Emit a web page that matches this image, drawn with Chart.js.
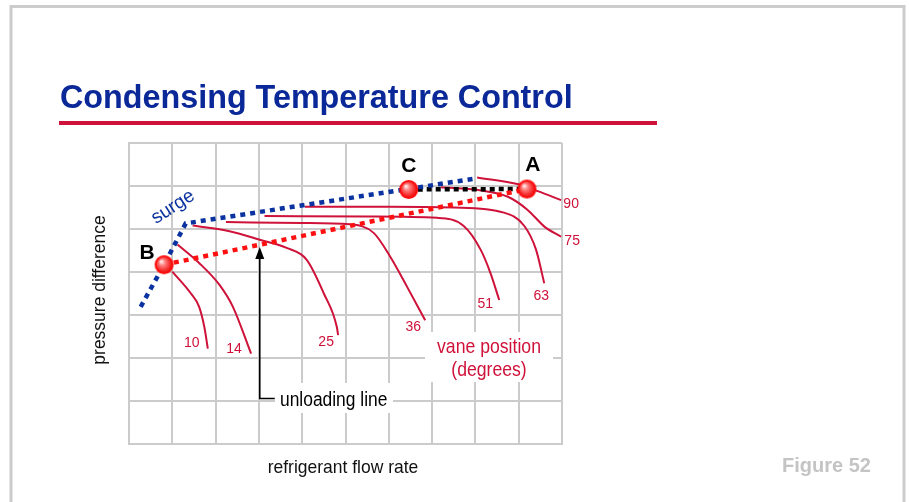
<!DOCTYPE html>
<html>
<head>
<meta charset="utf-8">
<title>Condensing Temperature Control</title>
<script src="https://cdn.jsdelivr.net/npm/chart.js@4.4.0/dist/chart.umd.min.js"></script>
<style>
  html, body { margin: 0; padding: 0; background: #fff; }
  canvas { display: block; }
</style>
</head>
<body>
<canvas id="chart" width="909" height="502"></canvas>
<script>
// grid units: 10 columns of flow, 7 rows of pressure difference
const X_MAX = 10;
const Y_MAX = 7;

// vane position curves (degrees)
const vaneAngles = [10, 14, 25, 36, 51, 63, 75, 90];
const vane10 = [{x: 1.00, y: 4.01}, {x: 1.43, y: 3.50}, {x: 1.62, y: 3.19}, {x: 1.74, y: 2.72}, {x: 1.82, y: 2.22}];
const vane14 = [{x: 1.12, y: 4.64}, {x: 1.62, y: 4.21}, {x: 2.09, y: 3.70}, {x: 2.40, y: 3.19}, {x: 2.82, y: 2.10}];
const vane25 = [{x: 1.47, y: 5.08}, {x: 2.32, y: 4.95}, {x: 3.02, y: 4.75}, {x: 3.64, y: 4.56}, {x: 4.10, y: 4.29}, {x: 4.50, y: 3.50}, {x: 4.80, y: 2.72}, {x: 4.83, y: 2.53}];
const vane36 = [{x: 2.24, y: 5.16}, {x: 4.00, y: 5.14}, {x: 5.10, y: 5.11}, {x: 5.65, y: 4.91}, {x: 6.03, y: 4.36}, {x: 6.42, y: 3.66}, {x: 6.84, y: 2.88}];
const vane51 = [{x: 3.13, y: 5.30}, {x: 5.50, y: 5.29}, {x: 7.12, y: 5.26}, {x: 7.73, y: 5.07}, {x: 8.12, y: 4.52}, {x: 8.35, y: 3.97}, {x: 8.55, y: 3.35}];
const vane63 = [{x: 4.06, y: 5.52}, {x: 6.00, y: 5.52}, {x: 7.50, y: 5.50}, {x: 8.66, y: 5.38}, {x: 9.13, y: 5.07}, {x: 9.40, y: 4.52}, {x: 9.59, y: 3.74}];
const vane75 = [{x: 7.20, y: 5.97}, {x: 8.10, y: 5.90}, {x: 8.75, y: 5.75}, {x: 9.20, y: 5.45}, {x: 9.60, y: 5.05}, {x: 9.98, y: 4.82}];
const vane90 = [{x: 8.04, y: 6.20}, {x: 9.00, y: 6.04}, {x: 9.44, y: 5.88}, {x: 9.98, y: 5.67}];
const vaneCurves = [vane10, vane14, vane25, vane36, vane51, vane63, vane75, vane90];

// operating points
const pointA = {x: 9.19, y: 5.93};
const pointB = {x: 0.81, y: 4.17};
const pointC = {x: 6.46, y: 5.92};
const pointNames = ['A', 'B', 'C'];

// surge line, unloading line B->A, and C->A
const surgeLine = [{x: 0.27, y: 3.19}, pointB, {x: 1.31, y: 5.13}, {x: 8.04, y: 6.18}];
const unloadingLine = [pointB, pointA];
const condensingLine = [pointC, pointA];

const RED = '#cf1239';
const BLUE = '#0a32a0';
const TITLE_BLUE = '#0a2898';
const FONT = '"Liberation Sans", Arial, sans-serif';

// shaded red ball used for A, B, C
function makeBall(r) {
    const c = document.createElement('canvas');
    const s = Math.ceil(r * 2 + 2);
    c.width = s; c.height = s;
    const g = c.getContext('2d');
    const cx = s / 2, cy = s / 2;
    const grad = g.createRadialGradient(cx - r * 0.3, cy - r * 0.35, 0.5, cx, cy, r);
    grad.addColorStop(0, '#fff0f0');
    grad.addColorStop(0.3, '#ff8080');
    grad.addColorStop(0.75, '#f52222');
    grad.addColorStop(1, '#e00808');
    g.beginPath();
    g.arc(cx, cy, r - 0.9, 0, Math.PI * 2);
    g.fillStyle = grad;
    g.fill();
    g.lineWidth = 1.8;
    g.strokeStyle = '#ff0a0a';
    g.stroke();
    return c;
}
const ball = makeBall(9.5);

// per-label nudges from the curve end (px)
const vaneLabelOffset = [[-16, -5], [-17, -5], [-12, 7], [-12, 7], [-14, 4], [-3, 13], [11, 4], [10, 4]];
const pointLabelOffset = {A: [6, -24], B: [-17, -11], C: [0, -23]};

function textScaled(ctx, str, x, y, sx) {
    ctx.save();
    ctx.translate(x, y);
    ctx.scale(sx, 1);
    ctx.fillText(str, 0, 0);
    ctx.restore();
}

const slidePlugin = {
    id: 'slide',
    beforeDatasetsDraw(chart) {
        const ctx = chart.ctx;
        ctx.save();
        // white boxes hiding the grid behind the notes
        ctx.fillStyle = '#fff';
        ctx.fillRect(425, 332, 128, 50);
        ctx.fillRect(275, 383, 118, 30);
        ctx.restore();
    },
    afterDatasetsDraw(chart) {
        const ctx = chart.ctx;
        const xs = chart.scales.x, ys = chart.scales.y;
        ctx.save();

        // slide frame
        ctx.strokeStyle = '#cccccc';
        ctx.lineWidth = 3;
        ctx.beginPath();
        ctx.moveTo(11, 510);
        ctx.lineTo(11, 6.5);
        ctx.lineTo(904, 6.5);
        ctx.lineTo(904, 510);
        ctx.stroke();

        // title + underline
        ctx.fillStyle = TITLE_BLUE;
        ctx.font = 'bold 34px ' + FONT;
        ctx.textBaseline = 'alphabetic';
        ctx.textAlign = 'left';
        textScaled(ctx, 'Condensing Temperature Control', 60, 108, 0.95);
        ctx.fillStyle = RED;
        ctx.fillRect(59, 121, 598, 4);

        // axis titles
        ctx.fillStyle = '#111';
        ctx.font = '19px ' + FONT;
        ctx.textAlign = 'center';
        ctx.textBaseline = 'middle';
        textScaled(ctx, 'refrigerant flow rate', 343, 468, 0.92);
        ctx.save();
        ctx.translate(100, 290);
        ctx.rotate(-Math.PI / 2);
        ctx.scale(0.92, 1);
        ctx.fillText('pressure difference', 0, 0);
        ctx.restore();

        // vane angle labels
        ctx.fillStyle = RED;
        ctx.font = '14px ' + FONT;
        vaneCurves.forEach((curve, i) => {
            const end = curve[curve.length - 1];
            const px = xs.getPixelForValue(end.x) + vaneLabelOffset[i][0];
            const py = ys.getPixelForValue(end.y) + vaneLabelOffset[i][1];
            ctx.fillText(String(vaneAngles[i]), px, py);
        });
        ctx.font = '21px ' + FONT;
        textScaled(ctx, 'vane position', 489, 347, 0.84);
        textScaled(ctx, '(degrees)', 489, 370, 0.84);

        // surge label
        ctx.fillStyle = BLUE;
        ctx.font = '19px ' + FONT;
        ctx.save();
        ctx.translate(173, 207);
        ctx.rotate(-33 * Math.PI / 180);
        ctx.fillText('surge', 0, 0);
        ctx.restore();

        // A / B / C
        ctx.fillStyle = '#000';
        ctx.font = 'bold 21px ' + FONT;
        [pointA, pointB, pointC].forEach((p, i) => {
            const n = pointNames[i];
            const off = pointLabelOffset[n];
            ctx.fillText(n, xs.getPixelForValue(p.x) + off[0], ys.getPixelForValue(p.y) + off[1]);
        });

        // unloading line pointer
        const ax = xs.getPixelForValue(3.02);
        ctx.strokeStyle = '#000';
        ctx.lineWidth = 1.6;
        ctx.beginPath();
        ctx.moveTo(ax, 256);
        ctx.lineTo(ax, 398.5);
        ctx.lineTo(ax + 15, 398.5);
        ctx.stroke();
        ctx.beginPath();
        ctx.moveTo(ax, 247);
        ctx.lineTo(ax - 4.5, 259);
        ctx.lineTo(ax + 4.5, 259);
        ctx.closePath();
        ctx.fillStyle = '#000';
        ctx.fill();
        ctx.font = '20px ' + FONT;
        ctx.textAlign = 'left';
        textScaled(ctx, 'unloading line', 280, 400, 0.87);

        // figure number
        ctx.fillStyle = '#c4c4c4';
        ctx.font = 'bold 20px ' + FONT;
        ctx.textAlign = 'left';
        ctx.fillText('Figure 52', 782, 466);

        ctx.restore();
    }
};

const vaneDatasets = vaneCurves.map((curve, i) => ({
    label: vaneAngles[i] + '°',
    data: curve,
    showLine: true,
    borderColor: RED,
    borderWidth: 2,
    pointRadius: 0,
    cubicInterpolationMode: 'monotone',
    order: 3
}));

const dotted = (data, color, width) => ({
    data: data,
    showLine: true,
    borderColor: color,
    borderWidth: width,
    borderDash: [5, 5],
    borderCapStyle: 'butt',
    pointRadius: 0,
    tension: 0,
    order: 2
});

new Chart(document.getElementById('chart'), {
    type: 'scatter',
    data: {
        datasets: [
            ...vaneDatasets,
            Object.assign(dotted(surgeLine, BLUE, 4.5), {label: 'surge'}),
            Object.assign(dotted(unloadingLine, '#ff1010', 4.5), {label: 'unloading line'}),
            Object.assign(dotted(condensingLine, '#000', 4.5), {label: 'C-A', borderDash: [5, 4]}),
            {
                label: 'points',
                data: [pointA, pointB, pointC],
                pointStyle: ball,
                pointRadius: 9,
                showLine: false,
                order: 0
            }
        ]
    },
    options: {
        responsive: false,
        animation: false,
        layout: { padding: { left: 129, right: 347, top: 143, bottom: 58 } },
        plugins: {
            legend: { display: false },
            tooltip: { enabled: false }
        },
        scales: {
            x: {
                type: 'linear', min: 0, max: X_MAX,
                ticks: { display: false, stepSize: 1 },
                grid: { color: '#cbcbcb', lineWidth: 2, drawTicks: false },
                border: { color: '#cbcbcb', width: 2 }
            },
            y: {
                type: 'linear', min: 0, max: Y_MAX,
                ticks: { display: false, stepSize: 1 },
                grid: { color: '#cbcbcb', lineWidth: 2, drawTicks: false },
                border: { color: '#cbcbcb', width: 2 }
            }
        }
    },
    plugins: [slidePlugin]
});
</script>
</body>
</html>
